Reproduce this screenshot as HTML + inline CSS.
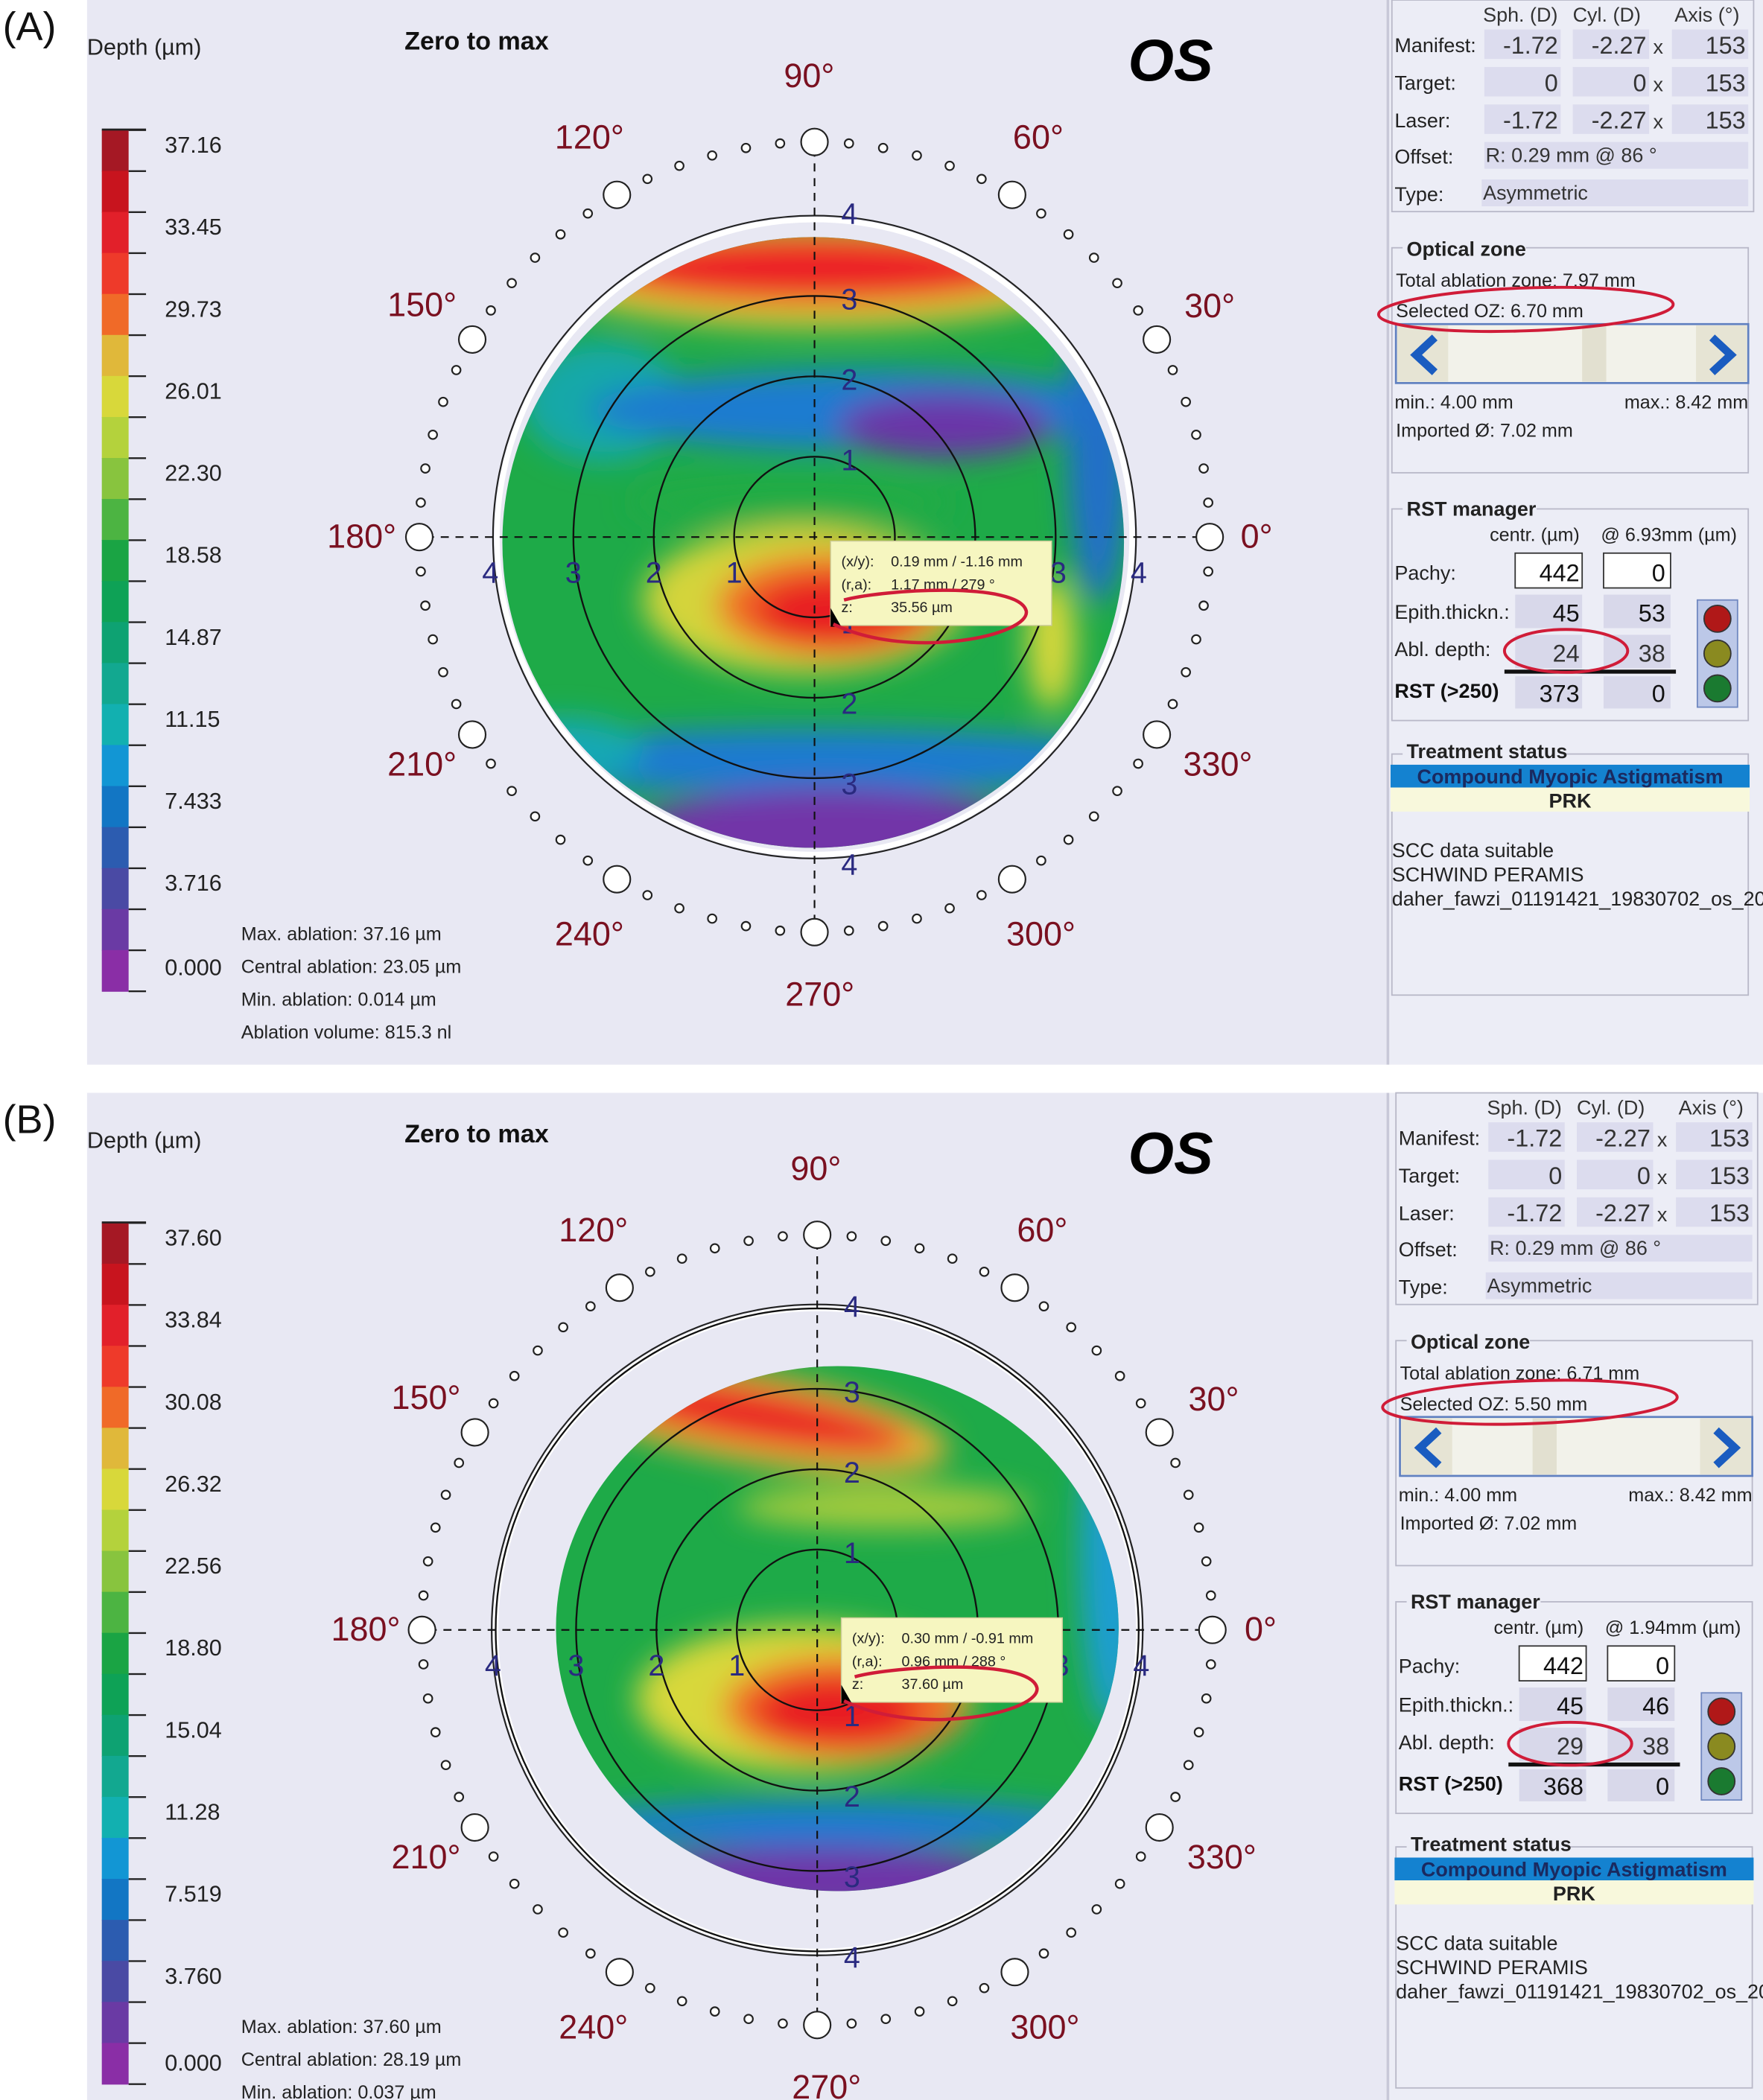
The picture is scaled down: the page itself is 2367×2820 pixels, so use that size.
<!DOCTYPE html>
<html><head><meta charset="utf-8">
<style>
html,body{margin:0;padding:0;background:#fff;}
svg{display:block;font-family:"Liberation Sans",sans-serif;}
</style></head>
<body>
<svg id="s" width="2367" height="2820" viewBox="0 0 1316 1568" preserveAspectRatio="none" xmlns="http://www.w3.org/2000/svg">
<defs>
<filter id="bl" x="-30%" y="-30%" width="160%" height="160%"><feGaussianBlur stdDeviation="11"/></filter>
<clipPath id="cA"><ellipse cx="607" cy="405" rx="232" ry="228"/></clipPath>
<clipPath id="cB"><ellipse cx="625" cy="1216" rx="210" ry="196"/></clipPath>
</defs>
<g id="root"></g>
</svg>
<script>
var o='';
function T(x,y,t,sz,fill,anchor,extra){o+='<text x="'+x+'" y="'+y+'" font-size="'+sz+'" fill="'+(fill||'#111')+'" text-anchor="'+(anchor||'start')+'" '+(extra||'')+'>'+t+'</text>';}
function R(x,y,w,h,f,extra){o+='<rect x="'+x+'" y="'+y+'" width="'+w+'" height="'+h+'" fill="'+f+'" '+(extra||'')+'/>';}
function E(cx,cy,rx,ry,f,extra){o+='<ellipse cx="'+cx+'" cy="'+cy+'" rx="'+rx+'" ry="'+ry+'" fill="'+f+'" '+(extra||'')+'/>';}
var cols=['#a51824','#c8141e','#e2202a','#ee3a2a','#f06a28','#e8962e','#e0b83a','#d8d83a','#b4d23c','#88c43e','#4cb442','#1aa444','#0ea256','#0ea272','#12a890','#12b0b0','#14b0d4','#1296d4','#1276c4','#2c5cb0','#4a4aa4','#6a3aa4','#8a2ea6'];
function panel(dy,dx,labels,P){
  R(65,dy,970,P.h,'#e8e8f3');
  R(1035,dy,281,P.h,'#ecedf6');
  R(1035,dy,2,P.h,'#c8c8d8');
  T(2,dy+30,P.tag,30,'#111');
  T(65,dy+41,'Depth (µm)',17,'#222');
  T(302,dy+37,'Zero to max',19,'#111','start','font-weight="bold"');
  T(842,dy+60,'OS',44,'#000','start','font-weight="bold" font-style="italic"');
  var top=dy+97, segh=643/21;
  for(var i=0;i<21;i++){R(76,top+i*segh,20,segh+0.5,cols[Math.round(i*22/20)]);}
  for(var i=0;i<=21;i++){R(96,top+i*segh-0.5,13,1.3,'#222');}
  R(76,top-1,33,1.5,'#222');
  for(var i=0;i<10;i++){T(123,top+17+i*segh*2,labels[i],17,'#222');}
  var st=P.stats;
  for(var i=0;i<st.length;i++){T(180,dy+702+i*24.5,st[i],14,'#222');}
  var cx=P.cx,cy=P.cy;
  o+='<g clip-path="url(#'+P.clip+')">';
  o+=P.map;
  o+='</g>';
  o+='<circle cx="'+cx+'" cy="'+cy+'" r="'+P.wr+'" fill="none" stroke="#fff" stroke-width="4"/>';
  o+='<circle cx="'+cx+'" cy="'+cy+'" r="'+(P.wr+3)+'" fill="none" stroke="#222" stroke-width="1.2"/>';
  for(var k=1;k<=3;k++) o+='<circle cx="'+cx+'" cy="'+(cy)+'" r="'+(k*60)+'" fill="none" stroke="#111" stroke-width="1.3"/>';
  if(P.ring4) o+='<circle cx="'+cx+'" cy="'+cy+'" r="240" fill="none" stroke="#111" stroke-width="1.3"/>';
  o+='<line x1="'+(cx-290)+'" y1="'+cy+'" x2="'+(cx+290)+'" y2="'+cy+'" stroke="#111" stroke-width="1.2" stroke-dasharray="6,5"/>';
  o+='<line x1="'+cx+'" y1="'+(cy-290)+'" x2="'+cx+'" y2="'+(cy+290)+'" stroke="#111" stroke-width="1.2" stroke-dasharray="6,5"/>';
  var nc='#2a2a80';
  for(var k=1;k<=4;k++){
    T(cx+26,cy-k*60+10-(k==4?4:0),k,22,nc,'middle');
    T(cx+26,cy+k*60+12,k==3?3:k,22,nc,'middle');
    T(cx-k*60+(k==4?-2:0),cy+34,k,22,nc,'middle');
  }
  T(cx+182,cy+34,3,22,nc,'middle');T(cx+242,cy+34,4,22,nc,'middle');
  for(var a=0;a<360;a+=5){
    var r=a%30==0?10:3.2, rr=295;
    var x=cx+rr*Math.cos(a*Math.PI/180), y=cy-rr*Math.sin(a*Math.PI/180);
    o+='<circle cx="'+x.toFixed(1)+'" cy="'+y.toFixed(1)+'" r="'+r+'" fill="#fff" stroke="#222" stroke-width="1.2"/>';
  }
  var lab=[[0,938,8],[30,903,-164],[60,775,-290],[90,cx-4,-336],[120,440,-290],[150,315,-165],[180,270,8],[210,315,178],[240,440,305],[270,cx+4,350],[300,777,305],[330,909,178]];
  for(var i=0;i<lab.length;i++){
    var L=lab[i];
    T(L[1]+dx,cy+L[2],L[0]+'°',25,'#7a1020','middle');
  }
  var tx=P.tx,ty=P.ty;
  R(tx,ty,165,63,'#f6f6c0','stroke="#cccc99" stroke-width="0.8"');
  T(tx+8,ty+19,'(x/y):',11,'#222');T(tx+45,ty+19,P.t1,11,'#222');
  T(tx+8,ty+36,'(r,a):',11,'#222');T(tx+45,ty+36,P.t2,11,'#222');
  T(tx+8,ty+53,'z:',11,'#222');T(tx+45,ty+53,P.t3,11,'#222');
  o+='<path d="M'+(tx)+' '+(ty+50)+' l8 14 l-8 0z" fill="#000"/>';
  o+='<path d="M'+(tx+2)+' '+(ty+62)+' C'+(tx+60)+' '+(ty+90)+' '+(tx+150)+' '+(ty+70)+' '+(tx+146)+' '+(ty+52)+' C'+(tx+140)+' '+(ty+30)+' '+(tx+40)+' '+(ty+36)+' '+(tx+10)+' '+(ty+44)+'" fill="none" stroke="#d01c38" stroke-width="2.5"/>';
  var X=1035+dx;
  R(X+4,dy,270,158,'none','stroke="#b8b8c8" stroke-width="1"');
  T(X+72,dy+16,'Sph. (D)',15,'#333');T(X+139,dy+16,'Cyl. (D)',15,'#333');T(X+215,dy+16,'Axis (°)',15,'#333');
  var rows=[['Manifest:','-1.72','-2.27','153'],['Target:','0','0','153'],['Laser:','-1.72','-2.27','153']];
  for(var i=0;i<3;i++){
    var y=dy+22+i*28;
    R(X+73,y,57,22,'#dcdcee');R(X+139,y,57,22,'#dcdcee');R(X+213,y,57,22,'#dcdcee');
    T(X+6,y+17,rows[i][0],15,'#222');
    T(X+128,y+18,rows[i][1],18,'#333','end');T(X+194,y+18,rows[i][2],18,'#333','end');
    T(X+199,y+18,'x',15,'#333');T(X+268,y+18,rows[i][3],18,'#333','end');
  }
  R(X+73,dy+106,197,20,'#dcdcee');T(X+6,dy+122,'Offset:',15,'#222');T(X+74,dy+121,'R: 0.29 mm @ 86 °',15,'#333');
  R(X+71,dy+134,199,20,'#dcdcee');T(X+6,dy+150,'Type:',15,'#222');T(X+72,dy+149,'Asymmetric',15,'#333');
  R(X+4,dy+185,266,168,'none','stroke="#b8b8c8" stroke-width="1"');
  R(X+12,dy+176,92,18,'#ecedf6');
  T(X+15,dy+191,'Optical zone',15,'#222','start','font-weight="bold"');
  T(X+7,dy+214,'Total ablation zone: '+P.taz,14,'#222');
  T(X+7,dy+237,'Selected OZ: '+P.soz,14,'#222');
  R(X+7,dy+242,263,44,'#f2f2ea','stroke="#6080c0" stroke-width="1.5"');
  R(X+8,dy+243,38,42,'#e6e4d4');R(X+231,dy+243,38,42,'#e6e4d4');R(X+146+P.thumb,dy+243,18,42,'#e2e0d0');
  o+='<path d="M'+(X+36)+' '+(dy+252)+' l-14 13 l14 13" fill="none" stroke="#1a5cc0" stroke-width="6"/>';
  o+='<path d="M'+(X+243)+' '+(dy+252)+' l14 13 l-14 13" fill="none" stroke="#1a5cc0" stroke-width="6"/>';
  T(X+6,dy+305,'min.: 4.00 mm',14,'#222');T(X+270,dy+305,'max.: 8.42 mm',14,'#222','end');
  T(X+7,dy+326,'Imported Ø: 7.02 mm',14,'#222');
  E(X+104,dy+231,110,16,'none','stroke="#d01c38" stroke-width="2.2" transform="rotate(-2 '+(X+104)+' '+(dy+231)+')"');
  R(X+4,dy+380,266,158,'none','stroke="#b8b8c8" stroke-width="1"');
  R(X+12,dy+370,100,18,'#ecedf6');
  T(X+15,dy+385,'RST manager',15,'#222','start','font-weight="bold"');
  T(X+77,dy+404,'centr. (µm)',14,'#222');T(X+160,dy+404,'@ '+P.at+' (µm)',14,'#222');
  T(X+6,dy+433,'Pachy:',15,'#222');
  R(X+96,dy+413,50,26,'#fff','stroke="#333" stroke-width="1"');R(X+162,dy+413,50,26,'#fff','stroke="#333" stroke-width="1"');
  T(X+144,dy+434,'442',18,'#111','end');T(X+208,dy+434,'0',18,'#111','end');
  T(X+6,dy+462,'Epith.thickn.:',15,'#222');
  R(X+96,dy+444,50,25,'#d8d8ea');R(X+162,dy+444,50,25,'#d8d8ea');
  T(X+144,dy+464,'45',18,'#111','end');T(X+208,dy+464,P.ep,18,'#111','end');
  T(X+6,dy+490,'Abl. depth:',15,'#222');
  R(X+96,dy+474,50,25,'#d8d8ea');R(X+162,dy+474,50,25,'#d8d8ea');
  T(X+144,dy+494,P.ad,18,'#333','end');T(X+208,dy+494,'38',18,'#333','end');
  R(X+88,dy+500,128,3,'#111');
  T(X+6,dy+521,'RST (>250)',15,'#111','start','font-weight="bold"');
  R(X+96,dy+505,50,24,'#d8d8ea');R(X+162,dy+505,50,24,'#d8d8ea');
  T(X+144,dy+524,P.rst,18,'#111','end');T(X+208,dy+524,'0',18,'#111','end');
  R(X+232,dy+448,30,80,'#bcc8e8','stroke="#7088c0" stroke-width="1"');
  o+='<circle cx="'+(X+247)+'" cy="'+(dy+462)+'" r="10" fill="#b01818" stroke="#333"/>';
  o+='<circle cx="'+(X+247)+'" cy="'+(dy+488)+'" r="10" fill="#8a8a20" stroke="#333"/>';
  o+='<circle cx="'+(X+247)+'" cy="'+(dy+514)+'" r="10" fill="#1a7a30" stroke="#333"/>';
  E(X+134,dy+486,46,16,'none','stroke="#d01c38" stroke-width="2.2"');
  R(X+4,dy+563,266,180,'none','stroke="#b8b8c8" stroke-width="1"');
  R(X+12,dy+552,122,18,'#ecedf6');
  T(X+15,dy+566,'Treatment status',15,'#222','start','font-weight="bold"');
  R(X+3,dy+571,268,17,'#1482d0');T(X+137,dy+585,'Compound Myopic Astigmatism',15,'#1a2a60','middle','font-weight="bold"');
  R(X+3,dy+588,268,18,'#f8f8dc');T(X+137,dy+603,'PRK',15,'#222','middle','font-weight="bold"');
  T(X+4,dy+640,'SCC data suitable',15,'#222');
  T(X+4,dy+658,'SCHWIND PERAMIS',15,'#222');
  T(X+4,dy+676,'daher_fawzi_01191421_19830702_os_20',15,'#222');
}
var mapA=
 '<rect x="360" y="160" width="500" height="500" fill="#1eaa48"/>'+
 '<g filter="url(#bl)">'+
 '<ellipse cx="610" cy="205" rx="200" ry="40" fill="#e0c838"/>'+
 '<ellipse cx="610" cy="200" rx="165" ry="26" fill="#ec2026"/>'+
 '<ellipse cx="450" cy="300" rx="60" ry="45" fill="#12a8a8"/>'+
 '<ellipse cx="640" cy="306" rx="200" ry="30" fill="#1a7cd0"/>'+
 '<ellipse cx="705" cy="318" rx="80" ry="24" fill="#6a36a8"/>'+
 '<ellipse cx="820" cy="330" rx="24" ry="120" fill="#2470c8"/>'+
 '<ellipse cx="590" cy="375" rx="120" ry="18" fill="#22ac44"/>'+
 '<ellipse cx="600" cy="448" rx="120" ry="55" fill="#d4d43a"/>'+
 '<ellipse cx="620" cy="452" rx="85" ry="38" fill="#f06a28"/>'+
 '<ellipse cx="625" cy="456" rx="62" ry="26" fill="#e81c22"/>'+
 '<ellipse cx="785" cy="480" rx="18" ry="50" fill="#d8d83a"/>'+
 '<ellipse cx="600" cy="568" rx="260" ry="24" fill="#1e7ad0"/>'+
 '<ellipse cx="620" cy="622" rx="150" ry="34" fill="#7234a8"/>'+
 '<ellipse cx="420" cy="560" rx="60" ry="24" fill="#12a8b4"/>'+
 '</g>';
var mapB=
 '<rect x="400" y="1000" width="460" height="440" fill="#1eaa48"/>'+
 '<g filter="url(#bl)">'+
 '<ellipse cx="560" cy="1058" rx="150" ry="34" fill="#e8b034" transform="rotate(10 560 1058)"/>'+
 '<ellipse cx="560" cy="1056" rx="120" ry="20" fill="#ea2026" transform="rotate(10 560 1056)"/>'+
 '<ellipse cx="660" cy="1125" rx="110" ry="16" fill="#a8cc3c"/>'+
 '<ellipse cx="830" cy="1160" rx="24" ry="130" fill="#1a9ed0"/>'+
 '<ellipse cx="600" cy="1268" rx="125" ry="55" fill="#d8d83a"/>'+
 '<ellipse cx="630" cy="1275" rx="90" ry="38" fill="#f06c28"/>'+
 '<ellipse cx="625" cy="1278" rx="62" ry="26" fill="#e81c22"/>'+
 '<ellipse cx="620" cy="1362" rx="200" ry="18" fill="#1a7ad0"/>'+
 '<ellipse cx="610" cy="1405" rx="160" ry="26" fill="#6e36a8"/>'+
 '</g>';
panel(0,0,['37.16','33.45','29.73','26.01','22.30','18.58','14.87','11.15','7.433','3.716'],{
 tag:'(A)',h:795,cx:608,cy:401,clip:'cA',map:mapA,wr:237,ring4:false,
 stats:['Max. ablation: 37.16 µm','Central ablation: 23.05 µm','Min. ablation: 0.014 µm','Ablation volume: 815.3 nl'],
 tx:620,ty:404,t1:'0.19 mm / -1.16 mm',t2:'1.17 mm / 279 °',t3:'35.56 µm',
 taz:'7.97 mm',soz:'6.70 mm',thumb:0,at:'6.93mm',ep:'53',ad:'24',rst:'373'});
panel(816,3,['37.60','33.84','30.08','26.32','22.56','18.80','15.04','11.28','7.519','3.760'],{
 tag:'(B)',h:752,cx:610,cy:1217,clip:'cB',map:mapB,wr:240,ring4:true,
 stats:['Max. ablation: 37.60 µm','Central ablation: 28.19 µm','Min. ablation: 0.037 µm'],
 tx:628,ty:1208,t1:'0.30 mm / -0.91 mm',t2:'0.96 mm / 288 °',t3:'37.60 µm',
 taz:'6.71 mm',soz:'5.50 mm',thumb:-40,at:'1.94mm',ep:'46',ad:'29',rst:'368'});
o+='<text x="123" y="728" font-size="17" fill="#222">0.000</text>';
o+='<text x="123" y="1546" font-size="17" fill="#222">0.000</text>';
o+='<rect x="0" y="795" width="1316" height="20" fill="#fff"/>';
document.getElementById('root').innerHTML=o;
</script>
</body></html>
